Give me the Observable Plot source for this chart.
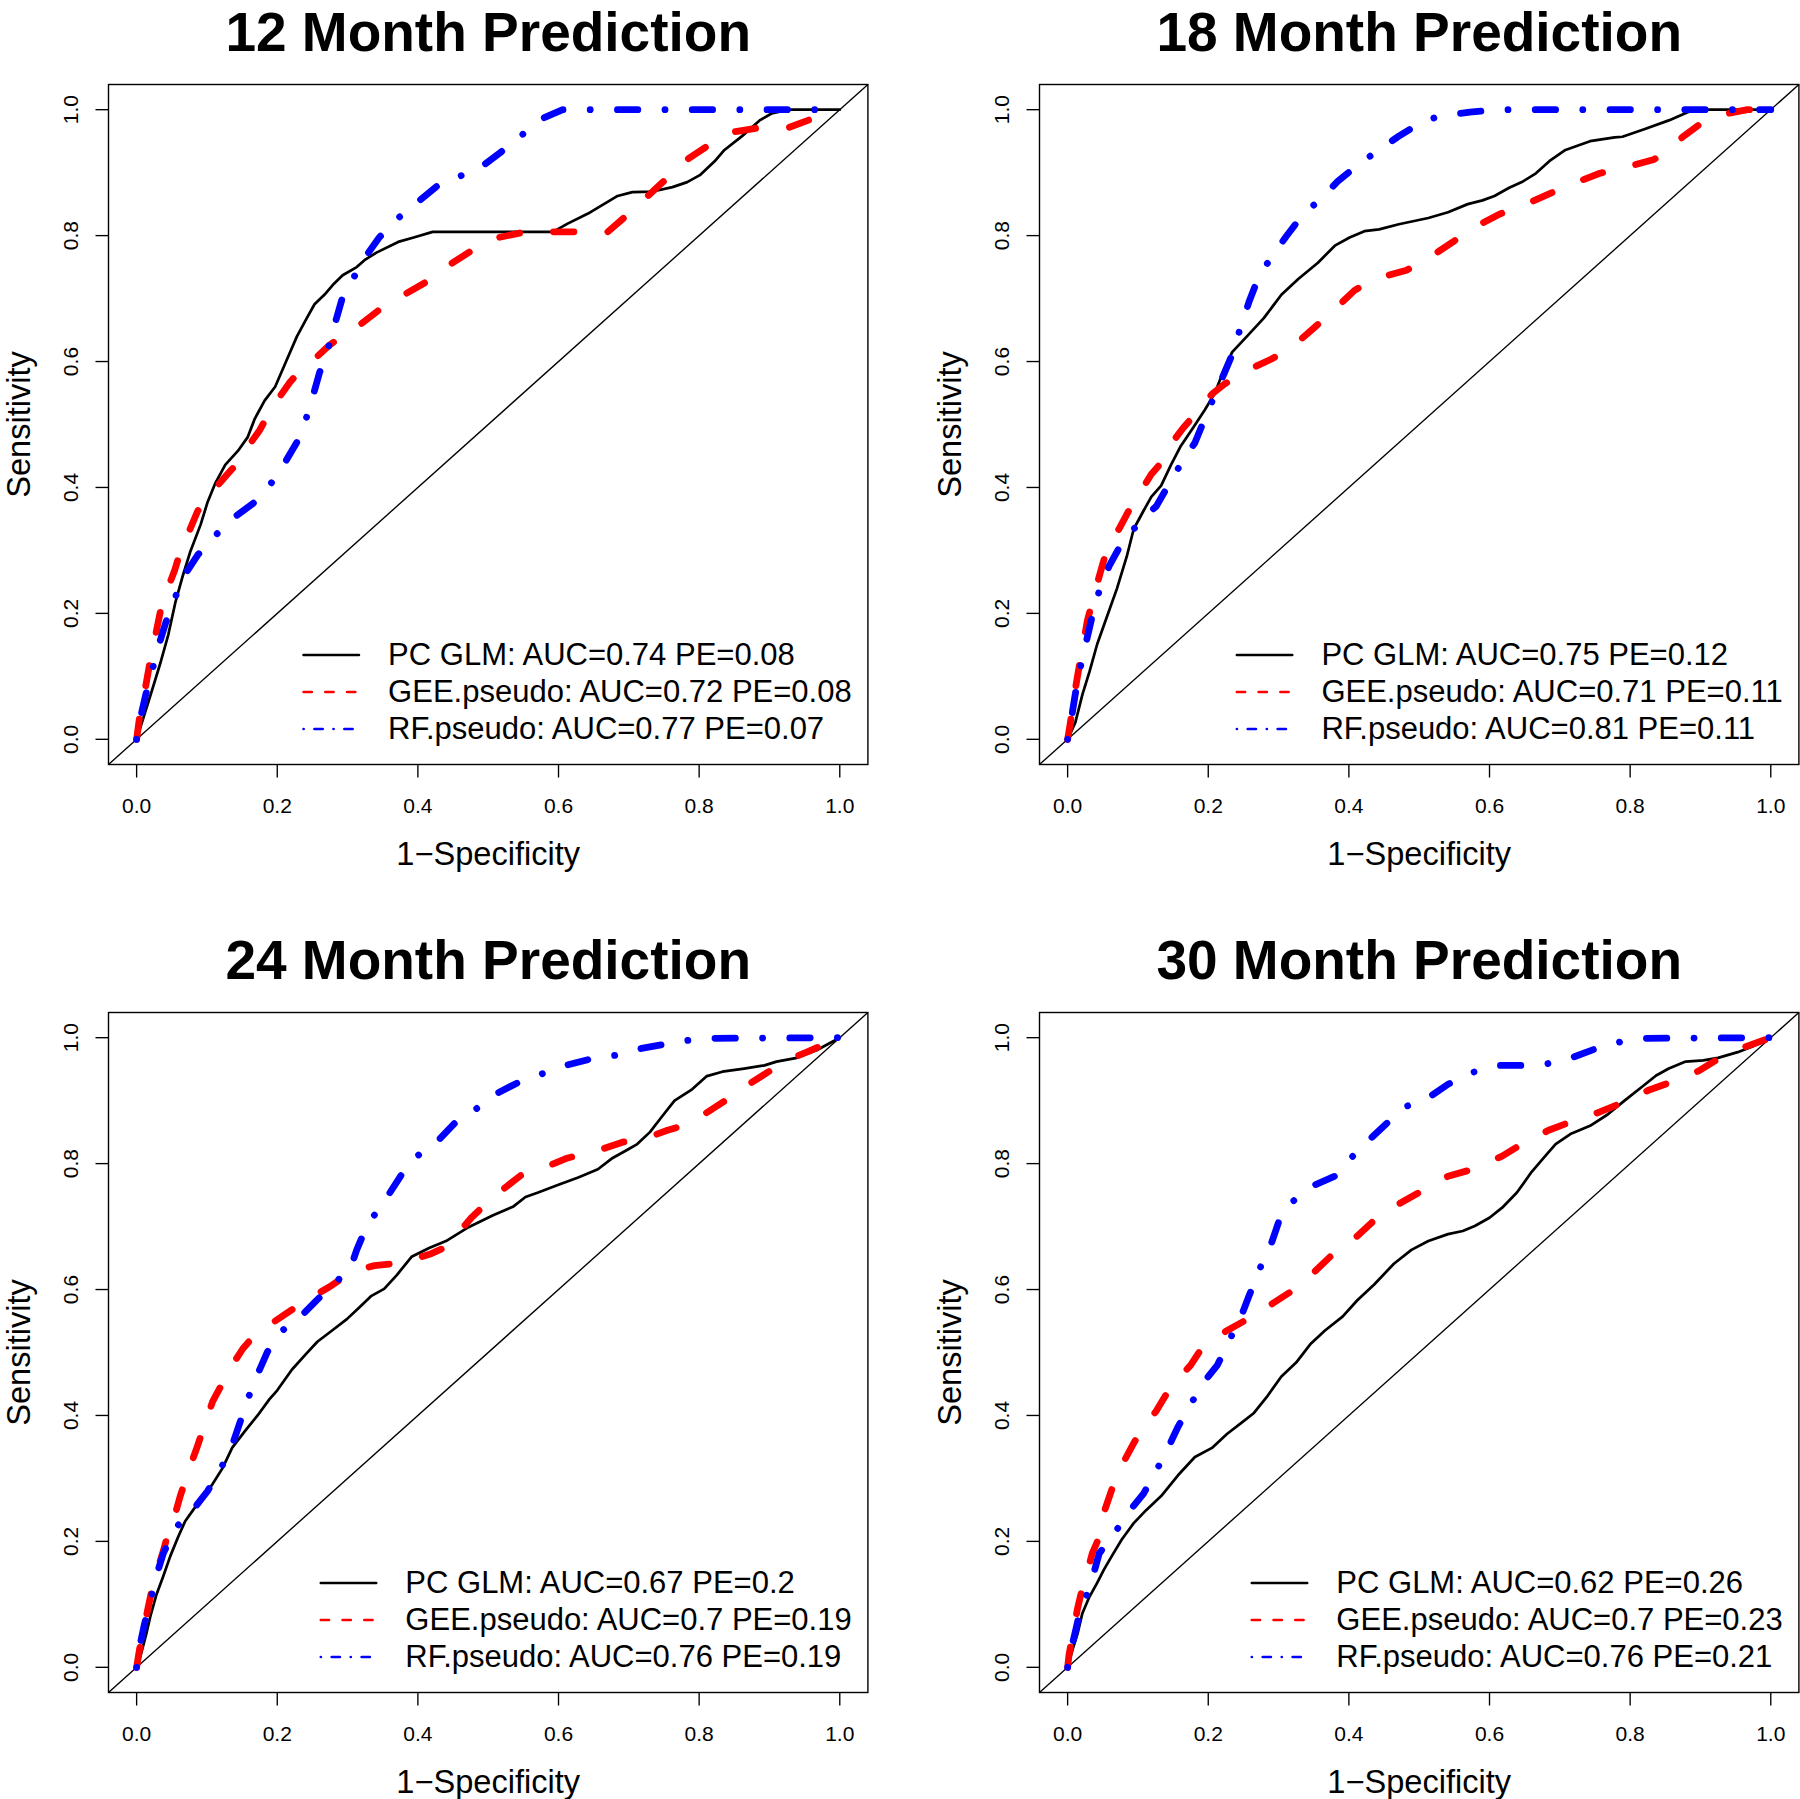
<!DOCTYPE html>
<html><head><meta charset="utf-8">
<script src="https://cdn.jsdelivr.net/npm/d3@7"></script>
<script src="https://cdn.jsdelivr.net/npm/@observablehq/plot@0.6"></script>
<style>
html,body{margin:0;padding:0;background:#fff;overflow:hidden;}
#root{position:relative;width:1800px;height:1799px;overflow:hidden;background:#fff;}
.panel{position:absolute;}
</style></head><body><div id="root"></div>
<script>
// ---------------- data ----------------
const panelTitles = ["12 Month Prediction", "18 Month Prediction", "24 Month Prediction", "30 Month Prediction"];
const seriesNames = ["PC GLM", "GEE.pseudo", "RF.pseudo"];
const aucValues = [[0.74, 0.72, 0.77], [0.75, 0.71, 0.81], [0.67, 0.7, 0.76], [0.62, 0.7, 0.76]];
const peValues  = [[0.08, 0.08, 0.07], [0.12, 0.11, 0.11], [0.2, 0.19, 0.19], [0.26, 0.23, 0.21]];
const tickValues = [0, 0.2, 0.4, 0.6, 0.8, 1.0];
const xLabel = "1\u2212Specificity";
const yLabel = "Sensitivity";

// 12 month
const m12GlmFpr = [0,0.020,0.034,0.045,0.055,0.066,0.076,0.091,0.101,0.112,0.126,0.144,0.158,0.168,0.182,0.197,0.211,0.228,0.242,0.253,0.267,0.281,0.293,0.313,0.324,0.341,0.372,0.394,0.421,0.592,0.613,0.642,0.684,0.705,0.734,0.762,0.783,0.801,0.822,0.836,0.861,0.886,0.903,0.928,1];
const m12GlmTpr = [0,0.071,0.122,0.166,0.217,0.261,0.297,0.341,0.377,0.407,0.436,0.458,0.480,0.509,0.538,0.560,0.596,0.640,0.669,0.691,0.706,0.724,0.737,0.750,0.761,0.773,0.790,0.797,0.806,0.806,0.819,0.835,0.863,0.869,0.870,0.877,0.885,0.896,0.918,0.936,0.958,0.983,0.994,1,1];
const m12GeeFpr = [0,0.004,0.013,0.020,0.027,0.035,0.045,0.054,0.062,0.073,0.087,0.098,0.112,0.129,0.147,0.161,0.175,0.189,0.204,0.218,0.232,0.253,0.274,0.292,0.317,0.352,0.380,0.419,0.444,0.486,0.515,0.553,0.670,0.702,0.727,0.762,0.783,0.818,0.850,0.889,0.928,0.974,1];
const m12GeeTpr = [0,0.034,0.085,0.129,0.166,0.210,0.242,0.268,0.297,0.326,0.363,0.377,0.399,0.421,0.443,0.469,0.491,0.520,0.545,0.567,0.585,0.604,0.626,0.640,0.658,0.688,0.706,0.731,0.753,0.783,0.797,0.806,0.806,0.837,0.863,0.899,0.921,0.947,0.965,0.972,0.972,0.991,1];
const m12RfFpr = [0,0.004,0.013,0.020,0.030,0.041,0.052,0.066,0.087,0.108,0.133,0.165,0.175,0.189,0.207,0.228,0.239,0.250,0.260,0.271,0.281,0.292,0.306,0.324,0.345,0.370,0.398,0.430,0.451,0.490,0.522,0.546,0.575,0.606,1];
const m12RfTpr = [0,0.027,0.071,0.100,0.144,0.184,0.217,0.257,0.293,0.319,0.348,0.374,0.385,0.403,0.432,0.472,0.502,0.542,0.582,0.615,0.656,0.699,0.728,0.764,0.797,0.826,0.852,0.881,0.890,0.909,0.936,0.958,0.985,1,1];

// 18 month
const m18GlmFpr = [0,0.011,0.021,0.031,0.042,0.056,0.070,0.084,0.094,0.108,0.119,0.133,0.147,0.161,0.178,0.195,0.209,0.223,0.234,0.255,0.279,0.304,0.328,0.356,0.380,0.401,0.422,0.443,0.471,0.513,0.541,0.569,0.590,0.607,0.628,0.646,0.666,0.687,0.708,0.743,0.778,0.789,0.820,0.855,0.890,1];
const m18GlmTpr = [0,0.027,0.071,0.107,0.151,0.195,0.239,0.290,0.334,0.363,0.385,0.403,0.436,0.466,0.494,0.523,0.549,0.589,0.615,0.640,0.669,0.706,0.731,0.757,0.784,0.797,0.807,0.810,0.818,0.828,0.837,0.850,0.856,0.863,0.876,0.885,0.899,0.920,0.936,0.950,0.956,0.957,0.969,0.983,1,1];
const m18GeeFpr = [0,0.004,0.007,0.014,0.021,0.028,0.038,0.049,0.059,0.073,0.087,0.101,0.119,0.133,0.147,0.164,0.178,0.192,0.206,0.223,0.248,0.290,0.318,0.352,0.377,0.408,0.436,0.482,0.513,0.548,0.576,0.614,0.646,0.684,0.715,0.757,0.792,0.834,0.855,0.876,0.897,0.925,0.967,1];
const m18GeeTpr = [0,0.027,0.053,0.100,0.144,0.188,0.231,0.275,0.312,0.334,0.363,0.388,0.421,0.439,0.469,0.494,0.512,0.531,0.549,0.564,0.582,0.604,0.622,0.655,0.680,0.713,0.731,0.745,0.764,0.790,0.812,0.834,0.847,0.866,0.881,0.899,0.908,0.921,0.936,0.958,0.975,0.991,1,1];
const m18RfFpr = [0,0.004,0.007,0.014,0.021,0.028,0.038,0.049,0.059,0.077,0.094,0.112,0.126,0.143,0.164,0.181,0.195,0.206,0.223,0.234,0.244,0.258,0.272,0.290,0.311,0.335,0.359,0.384,0.415,0.440,0.471,0.506,0.534,0.572,0.611,1];
const m18RfTpr = [0,0.020,0.045,0.093,0.129,0.162,0.210,0.250,0.275,0.312,0.334,0.356,0.370,0.403,0.443,0.471,0.509,0.538,0.582,0.611,0.647,0.695,0.735,0.766,0.799,0.834,0.857,0.886,0.914,0.934,0.958,0.982,0.991,0.996,1,1];

// 24 month
const m24GlmFpr = [0,0.006,0.013,0.020,0.028,0.038,0.048,0.059,0.069,0.083,0.098,0.108,0.122,0.136,0.154,0.172,0.189,0.200,0.221,0.242,0.257,0.278,0.299,0.317,0.334,0.352,0.370,0.391,0.416,0.440,0.472,0.507,0.536,0.553,0.571,0.599,0.628,0.656,0.677,0.698,0.712,0.730,0.748,0.765,0.790,0.811,0.833,0.864,0.893,0.910,0.939,0.967,1];
const m24GlmTpr = [0,0.020,0.050,0.083,0.115,0.145,0.177,0.207,0.232,0.254,0.276,0.291,0.316,0.349,0.375,0.400,0.426,0.440,0.473,0.499,0.517,0.535,0.553,0.572,0.590,0.601,0.623,0.652,0.666,0.677,0.699,0.718,0.732,0.747,0.754,0.766,0.778,0.791,0.809,0.822,0.831,0.850,0.876,0.900,0.918,0.939,0.946,0.951,0.956,0.962,0.968,0.980,1];
const m24GeeFpr = [0,0.004,0.009,0.016,0.023,0.030,0.038,0.045,0.052,0.062,0.073,0.087,0.098,0.108,0.122,0.136,0.151,0.165,0.179,0.197,0.221,0.246,0.274,0.295,0.317,0.338,0.373,0.394,0.419,0.437,0.451,0.476,0.507,0.546,0.578,0.613,0.649,0.691,0.723,0.755,0.776,0.797,0.840,0.868,0.896,0.924,0.953,1];
const m24GeeTpr = [0,0.028,0.053,0.093,0.130,0.156,0.185,0.214,0.232,0.272,0.309,0.353,0.389,0.422,0.451,0.480,0.506,0.524,0.537,0.550,0.568,0.586,0.604,0.620,0.632,0.638,0.642,0.648,0.657,0.666,0.681,0.714,0.747,0.781,0.793,0.809,0.818,0.834,0.840,0.853,0.860,0.871,0.902,0.924,0.944,0.964,0.977,1];
const m24RfFpr = [0,0.004,0.011,0.020,0.028,0.038,0.055,0.080,0.101,0.119,0.136,0.147,0.158,0.175,0.186,0.205,0.233,0.257,0.285,0.303,0.313,0.324,0.338,0.358,0.377,0.399,0.430,0.454,0.483,0.513,0.543,0.575,0.610,0.645,0.681,0.718,0.748,0.785,0.822,1];
const m24RfTpr = [0,0.031,0.068,0.108,0.145,0.181,0.221,0.250,0.280,0.314,0.353,0.389,0.426,0.473,0.501,0.533,0.557,0.584,0.614,0.630,0.663,0.692,0.718,0.750,0.783,0.812,0.838,0.866,0.887,0.912,0.929,0.942,0.956,0.966,0.972,0.983,0.989,0.996,0.999,1];

// 30 month
const m30GlmFpr = [0,0.007,0.014,0.021,0.031,0.042,0.052,0.063,0.077,0.094,0.112,0.133,0.157,0.181,0.206,0.227,0.248,0.265,0.283,0.304,0.325,0.345,0.366,0.391,0.412,0.436,0.464,0.489,0.513,0.541,0.562,0.579,0.600,0.618,0.639,0.660,0.677,0.694,0.715,0.743,0.768,0.792,0.817,0.837,0.855,0.879,0.904,0.925,0.953,0.974,1];
const m30GlmTpr = [0,0.028,0.053,0.086,0.112,0.134,0.156,0.177,0.203,0.229,0.250,0.272,0.305,0.334,0.349,0.371,0.389,0.404,0.429,0.462,0.484,0.513,0.535,0.557,0.583,0.608,0.641,0.663,0.677,0.688,0.693,0.701,0.714,0.730,0.754,0.787,0.809,0.831,0.847,0.860,0.878,0.900,0.922,0.940,0.951,0.962,0.964,0.968,0.977,0.986,1];
const m30GeeFpr = [0,0.002,0.007,0.014,0.021,0.028,0.035,0.042,0.052,0.063,0.080,0.094,0.108,0.126,0.140,0.157,0.175,0.188,0.206,0.227,0.251,0.269,0.293,0.318,0.349,0.377,0.412,0.436,0.471,0.506,0.541,0.576,0.618,0.646,0.684,0.715,0.757,0.785,0.827,0.862,0.897,0.925,0.960,1];
const m30GeeTpr = [0,0.020,0.050,0.093,0.126,0.152,0.181,0.199,0.247,0.283,0.327,0.356,0.382,0.407,0.433,0.458,0.480,0.502,0.520,0.535,0.550,0.561,0.579,0.597,0.626,0.656,0.685,0.710,0.736,0.758,0.780,0.791,0.812,0.831,0.853,0.866,0.882,0.895,0.917,0.931,0.947,0.966,0.984,1];
const m30RfFpr = [0,0.004,0.011,0.017,0.024,0.035,0.045,0.066,0.087,0.108,0.126,0.143,0.157,0.175,0.195,0.213,0.230,0.248,0.258,0.272,0.290,0.300,0.318,0.349,0.380,0.403,0.429,0.454,0.482,0.516,0.541,0.576,0.614,0.646,0.680,0.719,0.750,0.785,0.820,1];
const m30RfTpr = [0,0.024,0.057,0.086,0.104,0.141,0.181,0.212,0.247,0.276,0.312,0.349,0.382,0.418,0.455,0.480,0.519,0.561,0.590,0.630,0.674,0.707,0.738,0.765,0.780,0.809,0.838,0.864,0.891,0.907,0.926,0.945,0.956,0.956,0.958,0.969,0.982,0.993,0.999,1];

const curves = [
  [[m12GlmFpr, m12GlmTpr], [m12GeeFpr, m12GeeTpr], [m12RfFpr, m12RfTpr]],
  [[m18GlmFpr, m18GlmTpr], [m18GeeFpr, m18GeeTpr], [m18RfFpr, m18RfTpr]],
  [[m24GlmFpr, m24GlmTpr], [m24GeeFpr, m24GeeTpr], [m24RfFpr, m24RfTpr]],
  [[m30GlmFpr, m30GlmTpr], [m30GeeFpr, m30GeeTpr], [m30RfFpr, m30RfTpr]]
];

// ---------------- styling / layout ----------------
const FONT = "'Liberation Sans', Arial, Helvetica, sans-serif";
const W = 869, H = 871, ML = 108, MR = 1.6, MT = 84, MB = 107;
const COL_OFF = 930.5, ROW_OFF = 927.5;
const axisDomain = [-0.04, 1.04];
const U = 1.36; // px per R lwd unit
const curveStyles = [
  {stroke: "#000000", strokeWidth: 2 * U, dash: null},
  {stroke: "#FF0000", strokeWidth: 5 * U, dash: `${3*5*U} ${5*5*U}`},
  {stroke: "#0000FF", strokeWidth: 5 * U, dash: `0.01 ${4*5*U} ${3*5*U} ${4*5*U}`}
];
const legendStyles = [
  {stroke: "#000000", strokeWidth: 2 * U, dash: null},
  {stroke: "#FF0000", strokeWidth: 2 * U, dash: `${3*2*U} ${5*2*U}`},
  {stroke: "#0000FF", strokeWidth: 2 * U, dash: `0.01 ${4*2*U} ${3*2*U} ${4*2*U}`}
];
const LEG_FONT = 31;
const canvas = document.createElement("canvas");
const ctx = canvas.getContext("2d");
ctx.font = `${LEG_FONT}px ${FONT}`;

function legendText(p, i) {
  return `${seriesNames[i]}: AUC=${aucValues[p][i]} PE=${peValues[p][i]}`;
}

function makePanel(p) {
  const frameW = W - ML - MR;
  const maxW = d3.max(seriesNames, (s, i) => ctx.measureText(legendText(p, i)).width);
  const textDx = -(14.5 + maxW);
  const marks = [
    Plot.link([axisDomain], {x1: d => d[0], y1: d => d[0], x2: d => d[1], y2: d => d[1], stroke: "black", strokeWidth: U})
  ];
  curves[p].forEach(([fpr, tpr], i) => {
    const st = curveStyles[i];
    const rows = fpr.map((x, k) => ({x, y: tpr[k]}));
    marks.push(Plot.line(rows, {x: "x", y: "y", stroke: st.stroke, strokeWidth: st.strokeWidth,
      strokeDasharray: st.dash, strokeLinecap: "round", strokeLinejoin: "round"}));
  });
  marks.push(
    Plot.frame({stroke: "black", strokeWidth: 1.4}),
    Plot.axisX(tickValues, {tickSize: 13.5, tickPadding: 20, tickFormat: d3.format(".1f"), fontSize: 21, label: null, strokeWidth: U}),
    Plot.axisY(tickValues, {tickSize: 12.5, tickPadding: 18.5, tickRotate: -90, tickFormat: d3.format(".1f"), fontSize: 21, label: null, strokeWidth: U}),
    Plot.text([panelTitles[p]], {text: d => d, frameAnchor: "top", dy: -34, lineAnchor: "bottom", fontSize: 55, fontWeight: "bold"}),
    Plot.text([xLabel], {text: d => d, frameAnchor: "bottom", dy: 100, lineAnchor: "bottom", fontSize: 32.6}),
    Plot.text([yLabel], {text: d => d, frameAnchor: "left", dx: -79, rotate: -90, lineAnchor: "bottom", textAnchor: "middle", fontSize: 32.6})
  );
  seriesNames.forEach((s, i) => {
    const rowDy = -(35.5 + 37 * (2 - i));
    const st = legendStyles[i];
    marks.push(
      Plot.ruleY([axisDomain[0]], {dy: rowDy, insetLeft: frameW + textDx - 84, insetRight: -textDx + 28.7,
        stroke: st.stroke, strokeWidth: st.strokeWidth, strokeDasharray: st.dash, strokeLinecap: "round"}),
      Plot.text([legendText(p, i)], {text: d => d, frameAnchor: "bottom-right", dx: textDx, dy: rowDy,
        textAnchor: "start", lineAnchor: "middle", fontSize: LEG_FONT})
    );
  });
  return Plot.plot({
    width: W, height: H,
    marginLeft: ML, marginRight: MR, marginTop: MT, marginBottom: MB,
    x: {domain: axisDomain},
    y: {domain: axisDomain},
    style: {fontFamily: FONT, background: "white", color: "black", overflow: "visible"},
    marks
  });
}

const root = document.getElementById("root");
panelTitles.forEach((t, p) => {
  const r = Math.floor(p / 2), c = p % 2;
  const div = document.createElement("div");
  div.className = "panel";
  div.style.left = `${c * COL_OFF}px`;
  div.style.top = `${r * ROW_OFF}px`;
  div.appendChild(makePanel(p));
  root.appendChild(div);
});
</script>
</body></html>
